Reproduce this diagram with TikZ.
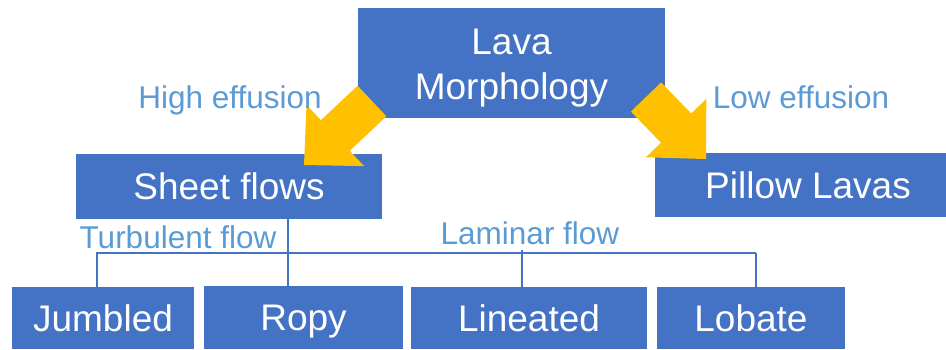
\documentclass[tikz,border=0pt]{standalone}
\usepackage{fontspec}
\setmainfont{Liberation Sans}
\definecolor{boxblue}{HTML}{4472C4}
\definecolor{lblblue}{HTML}{5B9BD5}
\definecolor{arrowyellow}{HTML}{FFC000}
\begin{document}
\begin{tikzpicture}[x=1pt,y=-1pt,
  box/.style={fill=boxblue, draw=none, inner sep=0pt, text=white,
    font=\fontsize{37}{45}\selectfont, text height=26.5pt, text depth=0pt},
  boxtext/.style={inner sep=0pt, text=white, font=\fontsize{37}{45}\selectfont, align=center},
  lbl/.style={inner sep=0pt, text=lblblue, font=\fontsize{31.5}{36}\selectfont, anchor=base},
  conn/.style={draw=boxblue, line width=1.5pt},
  bigarrow/.style={fill=arrowyellow, draw=none}]
\useasboundingbox (0,0) rectangle (946,349);

% boxes
\node[box, minimum width=307pt, minimum height=110pt] (lava) at (511.5,63) {};
\node[boxtext] (lavatext) at (511.5,68.2) {Lava\\Morphology};
\node[box, minimum width=306pt, minimum height=65pt] (sheet) at (229,186.5) {Sheet flows};
\node[box, minimum width=291pt, minimum height=64pt] (pillow) at (800.5,185) {\hspace*{15pt}Pillow Lavas};
\node[box, minimum width=182pt, minimum height=62pt] (jumbled) at (103,318) {Jumbled};
\node[box, minimum width=199pt, minimum height=63pt] (ropy) at (303.5,317.5) {Ropy};
\node[box, minimum width=236pt, minimum height=62pt] (lineated) at (529,318) {Lineated};
\node[box, minimum width=188pt, minimum height=62pt] (lobate) at (751,318) {Lobate};

% block arrows
\fill[bigarrow] (386.4,116.3) -- (357.6,85.7) -- (320.9,120.2) -- (306.5,104.9)
  -- (304,165) -- (364.1,166.1) -- (349.7,150.8) -- cycle;
\fill[bigarrow] (661.1,82.4) -- (630.9,111.6) -- (661.0,142.7) -- (645.9,157.3)
  -- (706,159) -- (706.3,98.9) -- (691.2,113.5) -- cycle;

% labels
\node[lbl] (high) at (230,108) {High effusion};
\node[lbl] (low) at (801,108) {Low effusion};
\node[lbl] (turb) at (178,248) {Turbulent flow};
\node[lbl] (lam) at (530,244) {Laminar flow};

% connectors
\coordinate (busL) at (96,253);
\coordinate (busR) at (756,253);
\coordinate (sheetout) at (288,219);
\coordinate (lamtop) at (522,250);
\draw[conn] (busL) -- (busR);
\draw[conn] (sheetout) -- (sheetout |- ropy.north);
\draw[conn] ([xshift=0.75pt]busL) -- ([xshift=0.75pt]busL |- jumbled.north);
\draw[conn] (lamtop) -- (lamtop |- lineated.north);
\draw[conn] (busR) -- (busR |- lobate.north);
\end{tikzpicture}
\end{document}
